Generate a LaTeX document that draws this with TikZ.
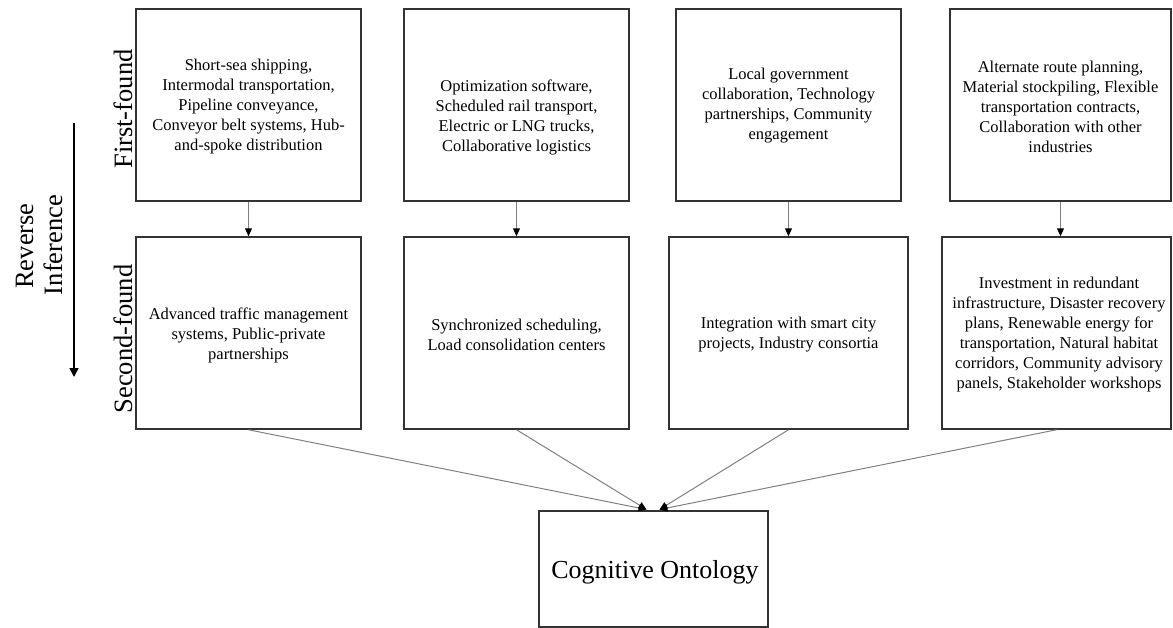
\documentclass[tikz,border=0pt]{standalone}
\usepackage{fontspec}
\setmainfont{Liberation Serif}
\usetikzlibrary{arrows.meta}
\definecolor{boxline}{HTML}{333333}
\definecolor{connline}{HTML}{808080}
\begin{document}
\begin{tikzpicture}[x=1pt,y=-1pt,
  box/.style={draw=boxline, line width=1.5pt, inner sep=0pt, fill=none},
  txt/.style={align=center, inner sep=0pt, text=black,
    font=\fontsize{16.5}{20}\selectfont},
  sidelabel/.style={rotate=90, anchor=base, inner sep=0pt, text=black,
    font=\fontsize{26.5}{30}\selectfont},
  conn/.style={draw=connline, line width=1pt,
    -{Triangle[width=7pt,length=8pt,color=black]}},
  revarrow/.style={draw=black, line width=1.5pt,
    -{Triangle[width=9pt,length=9pt,color=black]}}]

\useasboundingbox (0,0) rectangle (1173,627);

% first-found row
\node[box, minimum width=225pt, minimum height=192pt] (b11) at (248.5,105) {};
\node[box, minimum width=225pt, minimum height=192pt] (b12) at (516.5,105) {};
\node[box, minimum width=225pt, minimum height=192pt] (b13) at (788.5,105) {};
\node[box, minimum width=221pt, minimum height=192pt] (b14) at (1060.5,105) {};

% second-found row
\node[box, minimum width=225pt, minimum height=192pt] (b21) at (248.5,333) {};
\node[box, minimum width=225pt, minimum height=192pt] (b22) at (516.5,333) {};
\node[box, minimum width=239pt, minimum height=192pt] (b23) at (788.5,333) {};
\node[box, minimum width=229pt, minimum height=192pt] (b24) at (1056.5,333) {};

% ontology box
\node[box, minimum width=229pt, minimum height=116pt] (onto) at (653.5,569) {};

% box texts
\node[txt] (t11) at (248.5,107) {Short-sea shipping,\\Intermodal transportation,\\Pipeline conveyance,\\Conveyor belt systems, Hub-\\and-spoke distribution};
\node[txt] (t12) at (516.5,117) {Optimization software,\\Scheduled rail transport,\\Electric or LNG trucks,\\Collaborative logistics};
\node[txt] (t13) at (788.5,106) {Local government\\collaboration, Technology\\partnerships, Community\\engagement};
\node[txt] (t14) at (1060.5,107) {Alternate route planning,\\Material stockpiling, Flexible\\transportation contracts,\\Collaboration with other\\industries};

\node[txt] (t21) at (248.5,335) {Advanced traffic management\\systems, Public-private\\partnerships};
\node[txt] (t22) at (516.5,335) {Synchronized scheduling,\\Load consolidation centers};
\node[txt] (t23) at (788.5,335) {Integration with smart city\\projects, Industry consortia};
\node[txt] (t24) at (1059,335) {Investment in redundant\\infrastructure, Disaster recovery\\plans, Renewable energy for\\transportation, Natural habitat\\corridors, Community advisory\\panels, Stakeholder workshops};

\node[inner sep=0pt, text=black, font=\fontsize{26}{30}\selectfont] (tonto) at (655,572) {Cognitive Ontology};

% side labels
\node[sidelabel] (lfirst) at (132,109) {First-found};
\node[sidelabel] (lsecond) at (132,339) {Second-found};
\node[sidelabel] (lrev) at (33,246) {Reverse};
\node[sidelabel] (linf) at (62,245) {Inference};

% reverse inference arrow
\coordinate (revtop) at (74,123);
\coordinate (revbot) at (74,377);
\draw[revarrow] (revtop) -- (revbot);

% first-found to second-found
\draw[conn] (b11.south) -- (b21.north);
\draw[conn] (b12.south) -- (b22.north);
\draw[conn] (b13.south) -- (b23.north);
\draw[conn] (b14.south) -- (b14.south |- b24.north);

% second-found to ontology
\coordinate (tipL) at ([xshift=-7pt,yshift=0.75pt]onto.north);
\coordinate (tipR) at ([xshift=6pt,yshift=0.75pt]onto.north);
\draw[conn] (b21.south) -- (tipL);
\draw[conn] (b22.south) -- (tipL);
\draw[conn] (b23.south) -- (tipR);
\draw[conn] (b24.south) -- (tipR);
\end{tikzpicture}
\end{document}
